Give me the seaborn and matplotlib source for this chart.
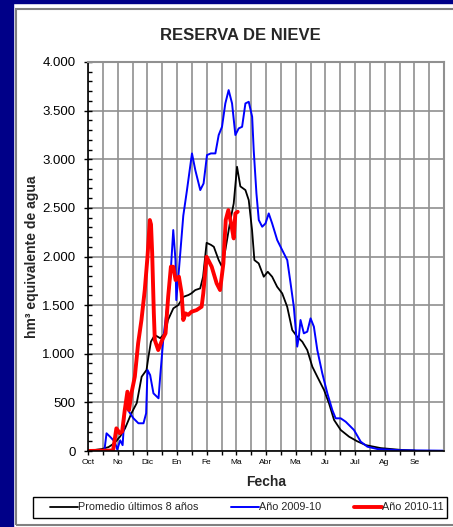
import matplotlib
matplotlib.use('Agg')
import matplotlib.pyplot as plt
import matplotlib.ticker as mticker
from matplotlib.patches import Rectangle
import numpy as np
import seaborn as sns

########### DATA (dia desde 1 oct, hm3) ###########
meses = ['Oct', 'No', 'Dic', 'En', 'Fe', 'Ma', 'Abr', 'Ma', 'Ju', 'Jul', 'Ag', 'Se']

dia_prom = [0, 10, 14, 21, 27, 33, 38, 44.5, 50, 55, 60, 62, 64.5, 68.5, 74, 79, 82, 87.5, 92.5, 98,
            103, 106, 110, 115, 118, 121.6, 126, 129, 134, 137.4, 140.8, 146, 149.4, 152.8, 156.2,
            161.4, 164.8, 168.2, 170.6, 175, 180.2, 184.3, 188.8, 193.9, 199.1, 204.2, 209.4, 214.5,
            219.7, 224.8, 230, 235.1, 242, 247.1, 252.3, 259.1, 267.7, 276, 285, 300, 320, 335]
val_prom = [0, 15, 20, 40, 80, 150, 233, 388, 493, 764, 833, 970, 1124, 1193, 1160, 1210, 1347, 1467,
            1500, 1586, 1604, 1621, 1655, 1672, 1792, 2141, 2120, 2100, 1963, 1894, 2066, 2375, 2546,
            2923, 2721, 2683, 2580, 2272, 1963, 1929, 1792, 1843, 1792, 1689, 1621, 1484, 1244, 1175,
            1124, 1038, 867, 764, 627, 490, 319, 216, 147, 100, 60, 30, 12, 5]

dia_0910 = [0, 15, 17, 19, 22.3, 27.4, 30, 33, 35.5, 38, 41, 46.6, 51.7, 56.9, 59.6, 61, 63.7, 67.1,
            72.3, 74, 77.4, 82.5, 84.5, 87.4, 89.7, 90.5, 93.2, 97.7, 101.3, 106.6, 110, 115.1, 118.5,
            122, 126, 130.6, 134, 137.4, 140.8, 144.2, 147.7, 151.1, 154.5, 158, 161.4, 164.8, 168.3,
            169.9, 172.7, 175.1, 178.6, 182, 185.3, 188.8, 194, 199.1, 204.3, 207.7, 211, 214.5, 216.2,
            217.9, 221.3, 224.8, 228.2, 231.6, 235.1, 240.2, 245.4, 250.5, 253.9, 259.1, 264.2, 269.3,
            272.7, 279.6, 286.5, 296.8, 320, 365]
val_0910 = [0, 0, 20, 182, 150, 96, 15, 110, 60, 456, 420, 336, 285, 285, 388, 833, 781, 593, 542, 764,
            1175, 1600, 1792, 2272, 1963, 1552, 1861, 2420, 2670, 3060, 2889, 2683, 2751, 3043, 3060,
            3060, 3249, 3334, 3574, 3711, 3574, 3249, 3317, 3334, 3574, 3591, 3437, 3094, 2648, 2375,
            2306, 2340, 2443, 2340, 2169, 2066, 1963, 1724, 1484, 1073, 1175, 1347, 1210, 1227, 1364,
            1278, 1038, 799, 593, 421, 336, 336, 301, 250, 216, 96, 44, 20, 8, 3]

dia_1011 = [0, 25.7, 29.1, 32.6, 35, 37.7, 40.4, 42.1, 44.5, 48, 51.4, 54.8, 58.2, 61, 63.4, 64.6,
            65.8, 67.5, 68.5, 72, 76, 79.5, 82.2, 85, 87.4, 89.8, 93.2, 96, 97.7, 100, 102.8, 106.2,
            111.3, 116.5, 118.2, 121.6, 126.8, 131.9, 135.4, 138.8, 141.2, 143.9, 146.7, 149.4, 151.1,
            153.5]
val_1011 = [0, 5, 233, 182, 200, 421, 610, 421, 593, 764, 1107, 1347, 1655, 1997, 2375, 2330, 2032,
            1415, 1141, 1038, 1141, 1210, 1586, 1895, 1895, 1758, 1792, 1621, 1347, 1415, 1400, 1432,
            1449, 1484, 1621, 1997, 1895, 1724, 1655, 1929, 2375, 2477, 2340, 2186, 2443, 2460]

########### FIGURE ###########
sns.set_style('white')
plt.rcParams['font.family'] = ['Liberation Sans', 'DejaVu Sans']

W, H = 453, 527
fig = plt.figure(figsize=(W / 100, H / 100), dpi=100)

# marco azul, borde gris y caja de la leyenda
fig.patches.extend([
    Rectangle((0, 0), 13 / W, 1, transform=fig.transFigure, color='#000088', zorder=0),
    Rectangle((0, 1 - 3 / H), 1, 3 / H, transform=fig.transFigure, color='#000088', zorder=0),
    Rectangle((15.5 / W, 1 - 525 / H), 1, (525 - 8.5) / H, transform=fig.transFigure,
              fill=False, ec='#808080', lw=1.5, zorder=0),
    Rectangle((33 / W, 1 - 518 / H), 414 / W, 21 / H, transform=fig.transFigure,
              fill=False, ec='black', lw=1.0, zorder=0),
])

ax = fig.add_axes([88 / W, 1 - 451 / H, (444 - 88) / W, (451 - 62) / H])

sns.lineplot(x=dia_prom, y=val_prom, ax=ax, color='black', lw=1.3,
             label='Promedio últimos 8 años', estimator=None, sort=False)
sns.lineplot(x=dia_0910, y=val_0910, ax=ax, color='#0000ff', lw=1.4,
             label='Año 2009-10', estimator=None, sort=False)
sns.lineplot(x=dia_1011, y=val_1011, ax=ax, color='#ff0000', lw=2.8,
             label='Año 2010-11', estimator=None, sort=False)
if ax.get_legend() is not None:
    ax.get_legend().remove()

ax.set_xlim(0, 365)
ax.set_ylim(0, 4000)
ax.set_xticks(np.arange(12) * 365 / 12)
ax.set_xticklabels(meses)
ax.set_xticks(np.arange(24) * 365 / 24, minor=True)
ax.yaxis.set_major_locator(mticker.MultipleLocator(500))
ax.yaxis.set_minor_locator(mticker.MultipleLocator(100))
ax.yaxis.set_major_formatter(mticker.FuncFormatter(lambda v, p: f'{int(v):,}'.replace(',', '.')))

ax.set_axisbelow(True)
ax.grid(True, which='both', axis='x', color='#909090', lw=1.2)
ax.grid(True, which='major', axis='y', color='#909090', lw=1.2)

ax.tick_params(axis='x', which='both', direction='out', length=3, width=1, colors='black',
               labelsize=6, pad=3)
ax.tick_params(axis='y', which='major', direction='inout', length=6, width=1, labelsize=9.5,
               pad=6, colors='black')
ax.tick_params(axis='y', which='minor', direction='in', length=3, width=1, colors='black')
ax.tick_params(left=True, bottom=True, which='both')
for s in ['left', 'bottom']:
    ax.spines[s].set_color('black')
    ax.spines[s].set_linewidth(1.2)
for s in ['top', 'right']:
    ax.spines[s].set_color('#909090')
    ax.spines[s].set_linewidth(1.5)

ax.set_xlabel('Fecha', fontsize=10, fontweight='bold')
ax.xaxis.label.set_va('center')
ax.xaxis.set_label_coords(0.5, -31 / 389)
ax.set_ylabel('hm³ equivalente de agua', fontsize=10, fontweight='bold')
ax.yaxis.label.set_va('center')
ax.yaxis.set_label_coords((32 - 88) / 356, 0.5)

fig.text(240 / W, 1 - 35 / H, 'RESERVA DE NIEVE', ha='center', va='center',
         fontsize=12, fontweight='bold')

handles, labels = ax.get_legend_handles_labels()
leg = fig.legend(handles, labels, loc='center left',
                 bbox_to_anchor=(50 / W, 1 - 507.5 / H),
                 ncol=3, frameon=False, fontsize=7.8,
                 handlelength=2.6, handletextpad=0.0, borderaxespad=0, borderpad=0,
                 columnspacing=3.0)

plt.savefig('out.png', dpi=100)
